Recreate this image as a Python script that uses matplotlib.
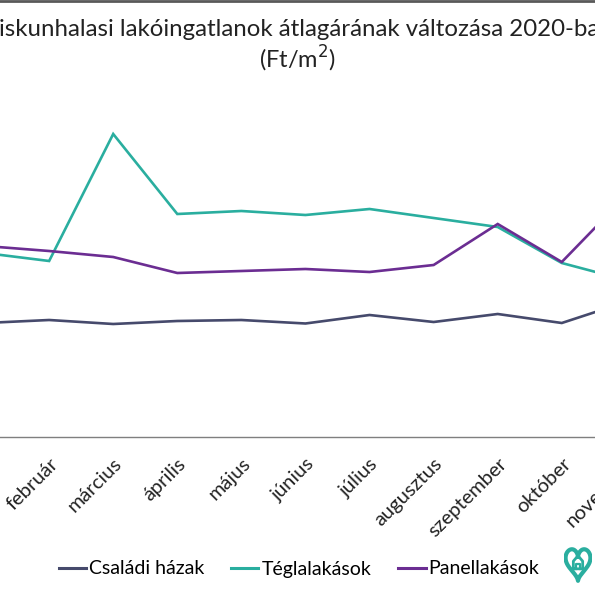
import numpy as np
import matplotlib
matplotlib.use('Agg')
import matplotlib.pyplot as plt
from matplotlib.lines import Line2D

plt.rcParams['font.family'] = ['Lato', 'DejaVu Sans']

# data (Ft/m2)
honapok = ['január', 'február', 'március', 'április', 'május', 'június',
           'július', 'augusztus', 'szeptember', 'október', 'november', 'december']
csaladi = [114000, 117000, 113000, 116000, 117000, 113500, 122000, 115000, 123000, 114000, 135000]
tegla = [184000, 176000, 303000, 223000, 226000, 222000, 228000, 219000, 210000, 174000, 157000]
panel = [191000, 186000, 180000, 164000, 166000, 168000, 165000, 172000, 213000, 175000, 241000]

c_csaladi = '#464A6C'
c_tegla = '#2AAE9F'
c_panel = '#6B2D92'

fig = plt.figure(figsize=(5.95, 5.95), dpi=100)
# plot area is wider than the picture (the original is a crop)
ax = fig.add_axes([-47/595, 158/595, 769/595, 350/595])

x = np.arange(len(csaladi))
ax.plot(x, csaladi, color=c_csaladi, lw=1.9, solid_joinstyle='miter')
ax.plot(x, tegla, color=c_tegla, lw=1.9, solid_joinstyle='miter')
ax.plot(x, panel, color=c_panel, lw=1.9, solid_joinstyle='miter')

ax.set_xlim(-0.5, len(honapok) - 0.5)
ax.set_ylim(0, 350000)
ax.set_xticks(np.arange(len(honapok)))
ax.set_xticklabels(honapok, rotation=45, ha='right', va='top',
                   rotation_mode='anchor', fontsize=14.5, color='#222222')
ax.tick_params(axis='x', length=0, pad=13)
ax.set_yticks([])
for s in ['top', 'left', 'right']:
    ax.spines[s].set_visible(False)
ax.spines['bottom'].set_color('#7f7f7f')
ax.spines['bottom'].set_linewidth(1.0)

# title
fig.text(0.5, 1 - 29/595, 'Kiskunhalasi lakóingatlanok átlagárának változása 2020-ban',
         ha='center', va='center', fontsize=17.3, color='#222222')
fig.text(0.5, 1 - 59/595, '(Ft/m$^2$)', ha='center', va='center', fontsize=17, color='#222222')

# border line of the chart at the top
fig.add_artist(Line2D([0, 1], [1 - 1/595, 1 - 1/595], color='#595959', lw=2))

# legend
handles = [Line2D([], [], color=c_csaladi, lw=2.2),
           Line2D([], [], color=c_tegla, lw=2.2),
           Line2D([], [], color=c_panel, lw=2.2)]
fig.legend(handles, ['Családi házak', 'Téglalakások', 'Panellakások'],
           loc='center', bbox_to_anchor=(299/595, 1 - 569/595), ncol=3, frameon=False,
           fontsize=14, handlelength=1.4, handletextpad=0.15, columnspacing=1.4)

# small logo (heart with house)
lax = fig.add_axes([564/595, 12/595, 28/595, 36/595])
t = np.linspace(0, 2*np.pi, 200)
lax.plot(16*np.sin(t)**3, 13*np.cos(t) - 5*np.cos(2*t) - 2*np.cos(3*t) - np.cos(4*t),
         color=c_tegla, lw=3.0)
lax.plot([-6, -6, 0, 6, 6, -6], [-6, 1, 6, 1, -6, -6], color=c_tegla, lw=2.0)
lax.plot([-2, -2, 2, 2], [-6, -2, -2, -6], color=c_tegla, lw=1.6)
lax.set_xlim(-18, 18)
lax.set_ylim(-19, 14)
lax.axis('off')

fig.savefig('out.png', dpi=100)
plt.close(fig)
